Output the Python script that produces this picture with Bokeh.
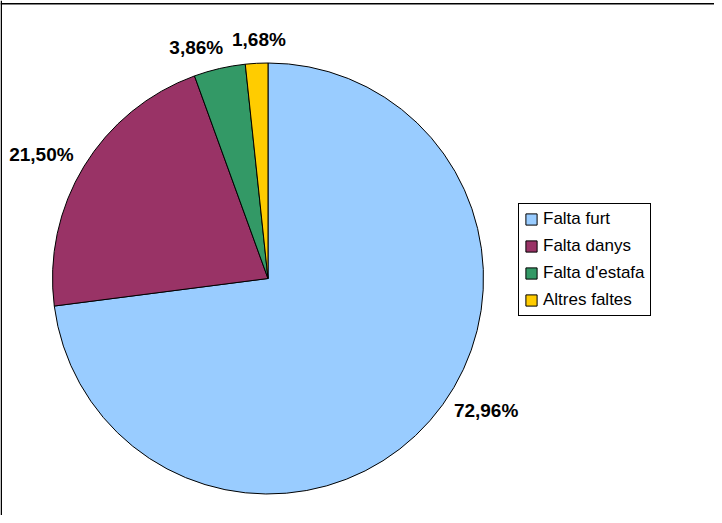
import math
from bokeh.plotting import figure
from bokeh.models import Range1d, ColumnDataSource, Legend, LegendItem, Span
from bokeh.core.properties import value
from bokeh.embed import file_html
from bokeh.resources import INLINE

# ---- data ----
categories = ["Falta furt", "Falta danys", "Falta d'estafa", "Altres faltes"]
percentages = [72.96, 21.50, 3.86, 1.68]
label_texts = ["72,96%", "21,50%", "3,86%", "1,68%"]
colors = ["#99CCFF", "#993366", "#339966", "#FFCC00"]

# ---- layout ----
W, H = 714, 515
CX, CY = 267.5, 237.0
R = 215.5
LABEL_R = 1.15 * R
label_nudge_x = [32, -15, -16, 4]
label_nudge_y = [31.5, -5, -10.5, -8.5]

total = sum(percentages)
starts, ends, lx, ly = [], [], [], []
cum = 0.0
for i, v in enumerate(percentages):
    a0 = math.pi / 2 - 2 * math.pi * cum / total
    a1 = math.pi / 2 - 2 * math.pi * (cum + v) / total
    starts.append(a0)
    ends.append(a1)
    mid = (a0 + a1) / 2
    lx.append(CX + LABEL_R * math.cos(mid) + label_nudge_x[i])
    ly.append(CY + LABEL_R * math.sin(mid) + label_nudge_y[i])
    cum += v

src = ColumnDataSource(dict(cat=categories, start=starts, end=ends, color=colors,
                            x=[CX] * 4, y=[CY] * 4))
lab = ColumnDataSource(dict(x=lx, y=ly, text=label_texts))

p = figure(width=W, height=H, output_backend="svg", toolbar_location=None,
           x_range=Range1d(0, W), y_range=Range1d(0, H),
           x_axis_type=None, y_axis_type=None, min_border=0,
           outline_line_color=None, background_fill_color="white",
           border_fill_color="white")
p.xgrid.visible = False
p.ygrid.visible = False

wr = p.wedge(x="x", y="y", radius=R, start_angle="start", end_angle="end",
             direction="clock", fill_color="color", line_color="black",
             line_width=1, source=src)

p.text(x="x", y="y", text="text", source=lab, text_font=value("Liberation Sans"),
       text_font_style="bold", text_font_size="19px", text_align="center",
       text_baseline="middle", text_color="black")

p.add_layout(Span(location=0.75, dimension="height", line_color="black", line_width=1.5))
p.add_layout(Span(location=511.8, dimension="width", line_color="black", line_width=1.5))

items = [LegendItem(label=c, renderers=[wr], index=i) for i, c in enumerate(categories)]
legend = Legend(items=items, location=(518, 199), margin=0, padding=5, spacing=7,
                glyph_width=14, glyph_height=14, label_standoff=5, label_height=20,
                label_text_font="Liberation Sans", label_text_font_size="17px",
                label_text_color="black", border_line_color="black",
                border_line_width=1, border_line_alpha=1,
                background_fill_color="white", background_fill_alpha=1)
p.add_layout(legend)

open("out.html", "w").write(file_html(p, INLINE))
